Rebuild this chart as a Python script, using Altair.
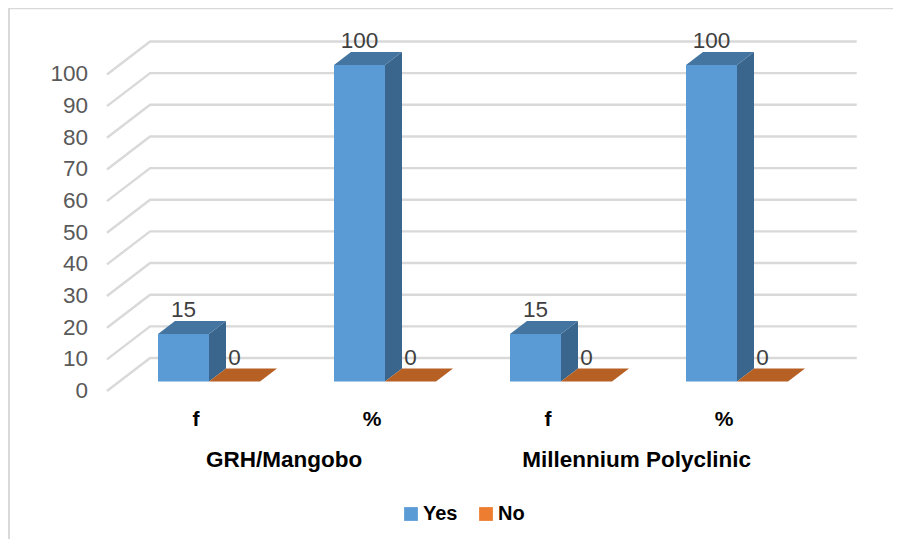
import altair as alt
import pandas as pd

groups = ["GRH/Mangobo", "Millennium Polyclinic"]
measures = ["f", "%", "f", "%"]
series = ["Yes", "No"]
yes_values = [15, 100, 15, 100]
no_values = [0, 0, 0, 0]
ticks = list(range(0, 101, 10))

# 3D projection, in scale units (1 x unit = one category slot, y units = chart values)
BAR_W = 51 / 176
DEPTH_X = 17 / 176
DEPTH_Y = 13 / 3.165
WALL_X = -0.045
WALL_Y = 7.43
FLOOR_X = -0.29
FLOOR_Y = -3.0
GRID_END = 3.97

W, H = 885, 531
X_ZERO, PX_X = 150, 176
Y_ZERO, PX_Y = 373.5, 3.165
x_scale = alt.Scale(domain=[-X_ZERO / PX_X, (W - X_ZERO) / PX_X], range=[0, W], nice=False, zero=False)
y_scale = alt.Scale(domain=[-(H - Y_ZERO) / PX_Y, Y_ZERO / PX_Y], range=[H, 0], nice=False, zero=False)
X = lambda f: alt.X(f, type="quantitative", scale=x_scale, axis=None)
Y = lambda f: alt.Y(f, type="quantitative", scale=y_scale, axis=None)

FONT = "Liberation Sans"
COL = {"Yes": ("#5B9BD5", "#4475A1", "#3A658C"), "No": ("#ED7D31", "#B66024", "#8F4C1D")}

front, faces, labels = [], [], []
for s, vals, shift in (("Yes", yes_values, 0.0), ("No", no_values, BAR_W)):
    for i, v in enumerate(vals):
        L = i + shift
        R = L + BAR_W
        front.append({"series": s, "x": L, "x2": R, "y": 0, "y2": v})
        # side face
        faces.append({"id": f"{s}{i}s", "fill": COL[s][2], "x": R, "y": 0, "y2": v})
        faces.append({"id": f"{s}{i}s", "fill": COL[s][2], "x": R + DEPTH_X, "y": DEPTH_Y, "y2": v + DEPTH_Y})
        # top face
        top = COL[s][1]
        faces.append({"id": f"{s}{i}t", "fill": top, "x": L, "y": v, "y2": v})
        faces.append({"id": f"{s}{i}t", "fill": top, "x": L + DEPTH_X, "y": v, "y2": v + DEPTH_Y})
        faces.append({"id": f"{s}{i}t", "fill": top, "x": R, "y": v, "y2": v + DEPTH_Y})
        faces.append({"id": f"{s}{i}t", "fill": top, "x": R + DEPTH_X, "y": v + DEPTH_Y, "y2": v + DEPTH_Y})
        labels.append({"x": (L + R) / 2, "y": v, "t": str(v)})

grid = []
for t in ticks:
    grid.append({"tick": t, "o": 0, "x": FLOOR_X, "y": t + FLOOR_Y})
    grid.append({"tick": t, "o": 1, "x": WALL_X, "y": t + WALL_Y})
    grid.append({"tick": t, "o": 2, "x": GRID_END, "y": t + WALL_Y})

frame_top = alt.Chart(pd.DataFrame({"a": [0]})).mark_rule(color="#D9D9D9", strokeWidth=1.5).encode(
    x=alt.value(0), x2=alt.value(W), y=alt.value(0.5))
frame_left = alt.Chart(pd.DataFrame({"a": [0]})).mark_rule(color="#D9D9D9", strokeWidth=2).encode(
    x=alt.value(1), y=alt.value(0), y2=alt.value(H))

grid_layer = alt.Chart(pd.DataFrame(grid)).mark_line(color="#D9D9D9", strokeWidth=2.4).encode(
    x=X("x"), y=Y("y"), detail="tick:N", order="o:Q")

tick_layer = alt.Chart(pd.DataFrame({"t": ticks, "y": [t + FLOOR_Y for t in ticks], "x": [FLOOR_X - 0.108] * len(ticks)})).mark_text(
    align="right", baseline="middle", font=FONT, fontSize=22.5, color="#595959").encode(
    x=X("x"), y=Y("y"), text="t:N")

face_layer = alt.Chart(pd.DataFrame(faces)).mark_area(interpolate="linear").encode(
    x=X("x"), y=Y("y"), y2="y2:Q", detail="id:N", fill=alt.Fill("fill:N", scale=None))

front_layer = alt.Chart(pd.DataFrame(front)).mark_rect().encode(
    x=X("x"), x2="x2:Q", y=Y("y"), y2="y2:Q",
    color=alt.Color("series:N", scale=alt.Scale(domain=series, range=[COL["Yes"][0], COL["No"][0]]),
                    legend=alt.Legend(orient="none", legendX=393, legendY=496, direction="horizontal",
                                      title=None, symbolType="square", symbolSize=190, symbolStrokeWidth=0,
                                      labelFont=FONT, labelFontSize=20, labelFontWeight="bold",
                                      labelColor="#000000", columnPadding=18, labelOffset=2)))

value_layer = alt.Chart(pd.DataFrame(labels)).mark_text(
    baseline="middle", align="center", dy=-24, font=FONT, fontSize=22.5, color="#404040").encode(
    x=X("x"), y=Y("y"), text="t:N")

cat_layer = alt.Chart(pd.DataFrame({"x": [i + 0.216 for i in range(4)], "y": [-12.1] * 4, "t": measures})).mark_text(
    baseline="middle", font=FONT, fontSize=21, fontWeight="bold", color="#000000").encode(
    x=X("x"), y=Y("y"), text="t:N")

group_layer = alt.Chart(pd.DataFrame({"x": [0.716, 2.72], "y": [-24.7] * 2, "t": groups})).mark_text(
    baseline="middle", font=FONT, fontSize=22.5, fontWeight="bold", color="#000000").encode(
    x=X("x"), y=Y("y"), text="t:N")

chart = alt.layer(frame_top, frame_left, grid_layer, tick_layer, face_layer, front_layer,
                  value_layer, cat_layer, group_layer).properties(
    width=W, height=H, padding=0, autosize=alt.AutoSizeParams(type="none"), background="#FFFFFF",
).configure_view(strokeWidth=0)

chart.save("out.html", embed_options={"renderer": "svg", "actions": False})
